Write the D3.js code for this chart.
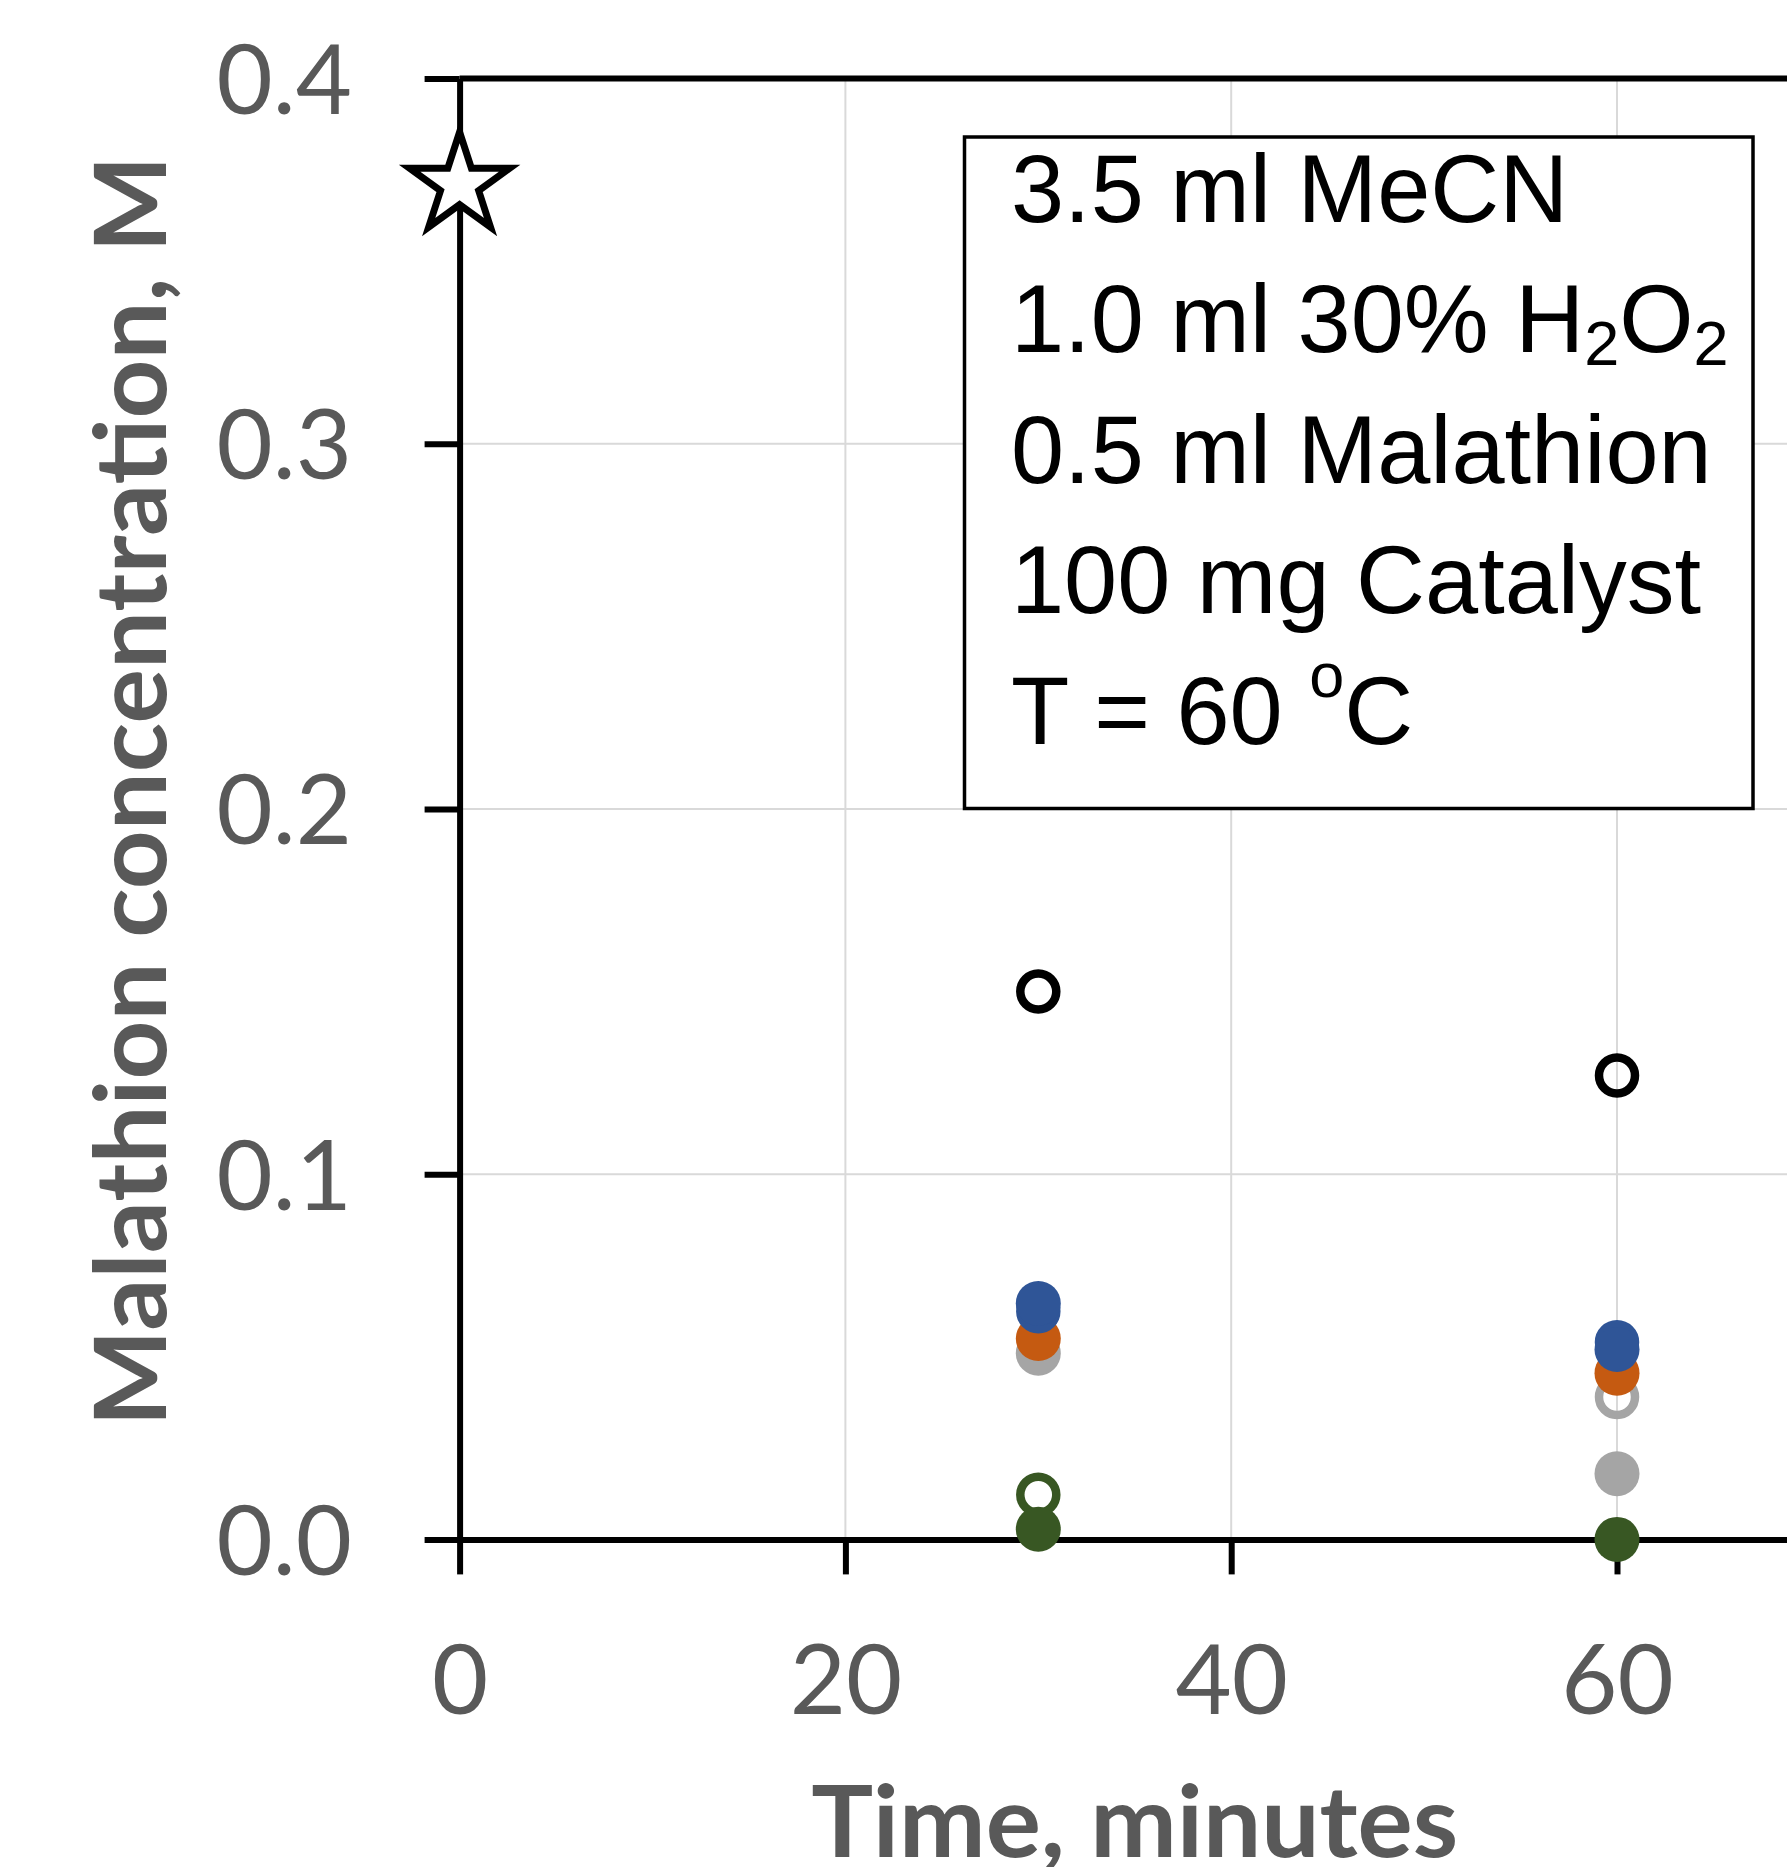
<!DOCTYPE html>
<html>
<head>
<meta charset="utf-8">
<script src="https://cdn.jsdelivr.net/npm/d3@7"></script>
<style>
  body { margin: 0; background: #fff; }
</style>
</head>
<body>
<svg id="chart" width="1787" height="1867"></svg>
<script>

// sampling times (minutes)
const times = [30, 60];

// malathion concentration, M (null = no point)
const blackOpen   = [0.150, 0.127];
const grayOpen    = [null, 0.039];
const grayFilled  = [0.051, 0.018];
const orangeFilled = [0.055, 0.0455];
const blueOpen    = [0.0625, 0.054];
const blueFilled  = [0.0646, 0.052];
const greenOpen   = [0.0122, null];
const greenFilled = [0.0028, 0.0];

// initial concentration
const startTime = 0;
const startConc = 0.371;

const xTicks = [0, 20, 40, 60];
const yTicks = [0, 0.1, 0.2, 0.3, 0.4];

const legendLines = [
    [['3.5 ml MeCN', 'n']],
    [['1.0 ml 30% H', 'n'], ['2', 'sub'], ['O', 'n'], ['2', 'sub']],
    [['0.5 ml Malathion', 'n']],
    [['100 mg Catalyst', 'n']],
    [['T = 60 ', 'n'], ['o', 'sup'], ['C', 'n']]
];

// draw order matters: later series sit on top
let series = [
    {values: grayOpen, color: '#A5A5A5', open: true},
    {values: grayFilled, color: '#A5A5A5', open: false},
    {values: orangeFilled, color: '#C55A11', open: false},
    {values: blueOpen, color: '#2F5597', open: true},
    {values: blueFilled, color: '#2F5597', open: false},
    {values: greenOpen, color: '#385723', open: true},
    {values: greenFilled, color: '#385723', open: false},
    {values: blackOpen, color: '#000000', open: true}
];

let svg = d3.select('#chart');

let x = d3.scaleLinear().domain([0, 70]).range([459.6, 1809.9]);
let y = d3.scaleLinear().domain([0, 0.4]).range([1539.4, 78.6]);

const labelFont = 'Lato, "Open Sans", sans-serif';
const labelColor = '#595959';
const axisWidth = 6;

// gridlines
svg.append('g').selectAll('line').data(xTicks.filter(d => d > 0)).enter().append('line')
    .attr('x1', d => x(d)).attr('x2', d => x(d))
    .attr('y1', y(0)).attr('y2', y(0.4))
    .attr('stroke', '#D9D9D9').attr('stroke-width', 2);
svg.append('g').selectAll('line').data(yTicks.filter(d => d > 0 && d < 0.4)).enter().append('line')
    .attr('x1', x(0)).attr('x2', x(70))
    .attr('y1', d => y(d)).attr('y2', d => y(d))
    .attr('stroke', '#D9D9D9').attr('stroke-width', 2);

// top border of plot area
svg.append('line')
    .attr('x1', x(0)).attr('x2', x(70))
    .attr('y1', y(0.4)).attr('y2', y(0.4))
    .attr('stroke', '#000').attr('stroke-width', axisWidth);

// axes
let yAxis = svg.append('g')
    .attr('transform', `translate(${x(0)},0)`)
    .call(d3.axisLeft(y).tickValues(yTicks).tickSize(35).tickSizeOuter(0)
        .tickPadding(72.6).tickFormat(d3.format('.1f')));

let xAxis = svg.append('g')
    .attr('transform', `translate(0,${y(0)})`)
    .call(d3.axisBottom(x).tickValues(xTicks).tickSize(35).tickSizeOuter(0));

[yAxis, xAxis].forEach(g => {
    g.selectAll('path, line').attr('stroke', '#000').attr('stroke-width', axisWidth);
    g.selectAll('text')
        .attr('font-family', labelFont)
        .attr('font-size', 97)
        .attr('fill', labelColor);
});
yAxis.selectAll('text').attr('dy', '0.36em');
xAxis.selectAll('text').attr('y', 174.6).attr('dy', 0);

// axis titles
svg.append('text')
    .attr('x', x(35)).attr('y', 1857)
    .attr('text-anchor', 'middle')
    .attr('font-family', labelFont).attr('font-weight', 'bold')
    .attr('font-size', 100).attr('fill', labelColor)
    .attr('textLength', 647).attr('lengthAdjust', 'spacingAndGlyphs')
    .text('Time, minutes');

svg.append('text')
    .attr('transform', 'translate(166,791) rotate(-90)')
    .attr('text-anchor', 'middle')
    .attr('font-family', labelFont).attr('font-weight', 'bold')
    .attr('font-size', 100).attr('fill', labelColor)
    .attr('textLength', 1271).attr('lengthAdjust', 'spacingAndGlyphs')
    .text('Malathion concentration, M');

// conditions box
svg.append('rect')
    .attr('x', 964.5).attr('y', 137)
    .attr('width', 788.5).attr('height', 671.5)
    .attr('fill', '#fff').attr('stroke', '#000').attr('stroke-width', 3.5);

let legend = svg.append('text')
    .attr('font-family', '"Liberation Sans", Arial, sans-serif')
    .attr('font-size', 95.5).attr('fill', '#000');

legendLines.forEach((line, i) => {
    let row = legend.append('tspan').attr('x', 1011).attr('y', 222 + i*130.4);
    line.forEach((seg, j) => {
        let prev = j > 0 ? line[j - 1][1] : 'n';
        let t = row.append('tspan').text(seg[0]);
        if(seg[1] === 'sub') {
            t.attr('font-size', 63).attr('dy', 13);
        }
        else if(seg[1] === 'sup') {
            t.attr('font-size', 63).attr('dy', -47);
        }
        else if(prev === 'sub') {
            t.attr('dy', -13);
        }
        else if(prev === 'sup') {
            t.attr('dy', 47);
        }
    });
});

// data points
series.forEach(s => {
    let pts = times.map((t, i) => ({t: t, v: s.values[i]})).filter(p => p.v !== null);
    svg.append('g').selectAll('circle').data(pts).enter().append('circle')
        .attr('cx', p => x(p.t))
        .attr('cy', p => y(p.v))
        .attr('r', s.open ? 18 : 22.5)
        .attr('fill', s.open ? 'none' : s.color)
        .attr('stroke', s.open ? s.color : 'none')
        .attr('stroke-width', s.open ? 8.5 : 0);
});

// starting concentration
svg.append('path')
    .attr('d', d3.symbol(d3.symbolStar, 3100)())
    .attr('transform', `translate(${x(startTime)},${y(startConc)})`)
    .attr('fill', '#fff').attr('stroke', '#000')
    .attr('stroke-width', 7).attr('stroke-linejoin', 'miter');

</script>
</body>
</html>
